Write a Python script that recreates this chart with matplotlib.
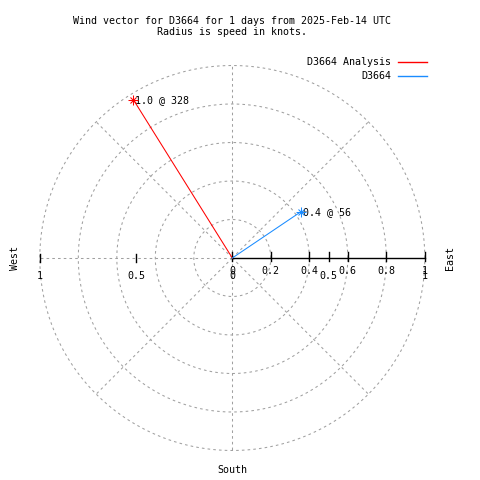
import numpy as np
import matplotlib
matplotlib.use("Agg")
import matplotlib.pyplot as plt

# ---- data ----
series_names = ["D3664 Analysis", "D3664"]
speeds = [0.97, 0.43]          # knots
directions = [328, 56]         # degrees (compass, from north clockwise)
colors = ["#ff0000", "#1a8cff"]
ring_values = [0.2, 0.4, 0.6, 0.8, 1.0]
r_ticks = [0, 0.2, 0.4, 0.6, 0.8, 1]
r_tick_labels = ["0", "0.2", "0.4", "0.6", "0.8", "1"]
extra_ticks = [0, 0.5, 1]
extra_tick_labels = ["0", "0.5", "1"]
spoke_angles = [0, 45, 90, 135, 180, 225, 270, 315]
title = "Wind vector for D3664 for 1 days from 2025-Feb-14 UTC\nRadius is speed in knots."

W = H = 480
cx, cy = 232.3, 258.0   # pixel center (from top)
R = 192.5               # pixels per unit radius

fig = plt.figure(figsize=(4.8, 4.8), dpi=100)
ax = fig.add_axes([0, 0, 1, 1])
ax.set_xlim(-cx / R, (W - cx) / R)
ax.set_ylim(-(H - cy) / R, cy / R)
ax.axis("off")

FONT = dict(family="DejaVu Sans Mono", fontsize=7.2, color="black")
px = 1.0 / R
lw = 0.75
grid_kw = dict(color="#a0a0a0", lw=lw, ls=(0, (2.5, 3)), zorder=1)

# rings
t = np.linspace(0, 2 * np.pi, 400)
for rv in ring_values:
    ax.plot(rv * np.cos(t), rv * np.sin(t), **grid_kw)

# spokes (skip the east one; that's the solid axis)
for a in spoke_angles:
    if a == 90:
        continue
    rad = np.deg2rad(a)
    ax.plot([0, np.sin(rad)], [0, np.cos(rad)], **grid_kw)

# solid radial axis to the east
ax.plot([0, 1], [0, 0], color="black", lw=1.0, zorder=2)
for v in r_ticks + [0.5]:
    ax.plot([v, v], [-3 * px, 6 * px], color="black", lw=1.0, zorder=2)
for v in [-0.5, -1.0]:
    ax.plot([v, v], [-4 * px, 4 * px], color="black", lw=1.0, zorder=2)

for v, lab in zip(r_ticks, r_tick_labels):
    ax.text(v, -13 * px, lab, ha="center", va="center", **FONT)
for v, lab in zip(extra_ticks, extra_tick_labels):
    ax.text(v, -18 * px, lab, ha="center", va="center", **FONT)
    if v != 0:
        ax.text(-v, -18 * px, lab, ha="center", va="center", **FONT)

# compass labels
ax.text(-(cx - 15) * px, 0, "West", rotation=90, ha="center", va="center", **FONT)
ax.text((450 - cx) * px, 0, "East", rotation=90, ha="center", va="center", **FONT)
ax.text(0, -(470 - cy) * px, "South", ha="center", va="center", **FONT)

# vectors
for s, d, c in zip(speeds, directions, colors):
    rad = np.deg2rad(d)
    x, y = s * np.sin(rad), s * np.cos(rad)
    ax.plot([0, x], [0, y], color=c, lw=lw, zorder=3)
    ax.plot([x], [y], marker="+", color=c, ms=7, mew=lw, zorder=4)
    ax.plot([x], [y], marker="x", color=c, ms=5, mew=lw, zorder=4)
    ax.text(x + 2 * px, y, f"{s:.1f} @ {d:.0f}", ha="left", va="center", **FONT)

# legend
for i, (name, c) in enumerate(zip(series_names, colors)):
    yy = (cy - (62 + 14 * i)) * px
    ax.text((391 - cx) * px, yy, name, ha="right", va="center", **FONT)
    ax.plot([(398 - cx) * px, (427 - cx) * px], [yy, yy], color=c, lw=1.0)

# title
ax.text(0, (cy - 26.5) * px, title, ha="center", va="center",
        multialignment="center", linespacing=1.05, **FONT)

fig.savefig("out.png", dpi=100)
